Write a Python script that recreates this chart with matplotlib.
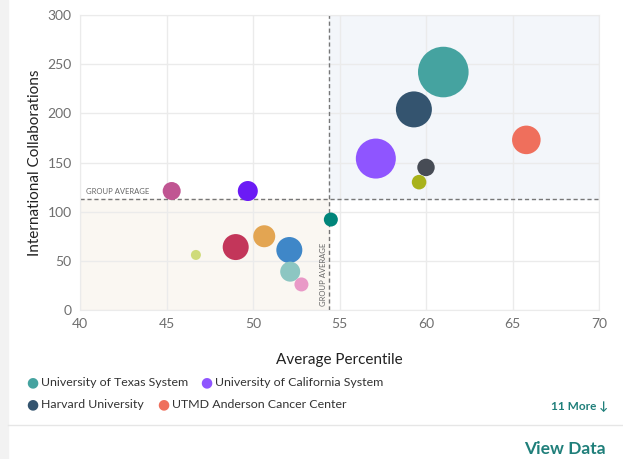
import numpy as np
import matplotlib
matplotlib.use('Agg')
import matplotlib.pyplot as plt
from matplotlib.patches import Rectangle

plt.rcParams['font.family'] = ['Lato', 'DejaVu Sans']

# institutions (first four are named in the legend)
names = ['University of Texas System', 'University of California System', 'Harvard University',
         'UTMD Anderson Cancer Center', 'Inst 5', 'Inst 6', 'Inst 7', 'Inst 8', 'Inst 9',
         'Inst 10', 'Inst 11', 'Inst 12', 'Inst 13', 'Inst 14', 'Inst 15']
avg_percentile = [61.0, 57.1, 59.3, 65.8, 60.0, 59.6, 54.5, 45.3, 49.7, 46.7, 49.0, 50.65, 52.1, 52.15, 52.8]
intl_collab = [242, 154, 204, 173, 145, 130, 92, 121, 121, 56, 64, 75, 61, 39, 26]
bubble_value = [640, 400, 324, 204, 76, 53, 49, 81, 100, 25, 169, 121, 169, 100, 49]
colors = ['#45a3a0', '#8f55ff', '#34546f', '#ef6f5c', '#474c55', '#a8b21a', '#00857a', '#c05592',
          '#6b1bf5', '#cfdb7a', '#c3365a', '#e3a552', '#3f87c8', '#8cc6c2', '#e999c7']
group_avg_x = 54.4
group_avg_y = 113

fig = plt.figure(figsize=(6.23, 4.59), dpi=100)
fig.patch.set_facecolor('white')
# page strip on the left and separator
fig.patches.append(Rectangle((0, 0), 8/623, 1, transform=fig.transFigure, color='#f2f2f2', zorder=0))
fig.lines.append(plt.Line2D([8/623, 1], [1-425/459, 1-425/459], transform=fig.transFigure, color='#e6e6e6', lw=1))

ax = fig.add_axes([80/623, 1-310/459, 519/623, 295/459])
ax.set_xlim(40, 70)
ax.set_ylim(0, 300)

# quadrant shading
ax.add_patch(Rectangle((group_avg_x, group_avg_y), 70-group_avg_x, 300-group_avg_y, color='#f3f6fa', zorder=0))
ax.add_patch(Rectangle((40, 0), group_avg_x-40, group_avg_y, color='#faf7f2', zorder=0))

ax.set_xticks(np.arange(40, 71, 5))
ax.set_yticks(np.arange(0, 301, 50))
ax.grid(color='#ebebeb', lw=1, zorder=1)
ax.set_axisbelow(True)
for s in ax.spines.values():
    s.set_color('#ebebeb')
ax.tick_params(length=0, labelsize=10, labelcolor='#6f6f6f', pad=6)

ax.axhline(group_avg_y, color='#777777', ls=(0, (3, 2)), lw=1, zorder=2)
ax.axvline(group_avg_x, color='#777777', ls=(0, (3, 2)), lw=1, zorder=2)
ax.text(40.35, group_avg_y + 4, 'GROUP AVERAGE', fontsize=5.5, color='#666666', va='bottom', ha='left')
ax.text(group_avg_x - 0.35, 4, 'GROUP AVERAGE', fontsize=5.5, color='#666666', rotation=90, va='bottom', ha='center')

sizes = np.array(bubble_value) * 4 * 0.72**2
ax.scatter(avg_percentile, intl_collab, s=sizes, c=colors, edgecolors='none', zorder=3, clip_on=False)

ax.set_xlabel('Average Percentile', fontsize=11, color='#222222', labelpad=16)
ax.set_ylabel('International Collaborations', fontsize=11, color='#222222', labelpad=4)

# legend (top four)
leg_pos = [(32, 383), (206, 383), (32, 405), (163, 405)]
for (px, py), nm, col in zip(leg_pos, names[:4], colors[:4]):
    fig.text(px/623, 1-py/459 + 0.002, '\u25CF', color=col, fontsize=10, ha='center', va='center', family='DejaVu Sans')
    fig.text((px+9)/623, 1-py/459, nm, color='#333333', fontsize=8.9, ha='left', va='center')
fig.text(608/623, 1-407/459, '11 More \u2193', color='#1f7f7a', fontsize=8.5, fontweight='bold',
         ha='right', va='center', family=['Lato', 'DejaVu Sans'])
fig.text(606/623, 1-449/459, 'View Data', color='#1f7f7a', fontsize=12.5, fontweight='bold', ha='right', va='center')

fig.savefig('out.png', dpi=100)
